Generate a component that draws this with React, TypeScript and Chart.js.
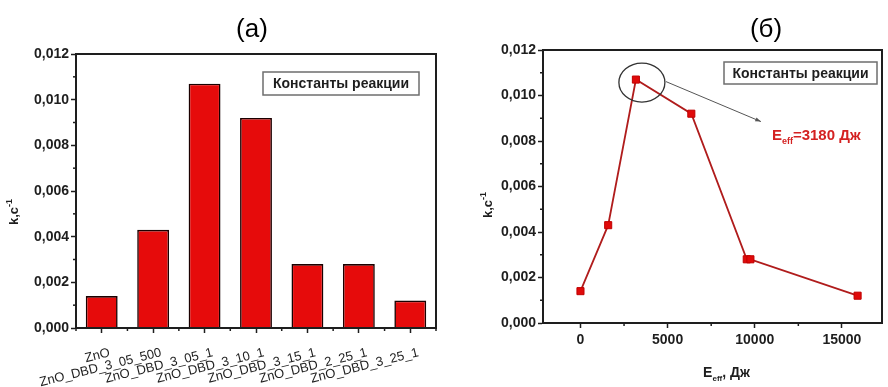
import React, { useEffect, useRef } from "react";
import { Chart, registerables } from "chart.js";

Chart.register(...registerables);

// ---------- data ----------
const samples = [
  "ZnO",
  "ZnO_DBD_3_05_500",
  "ZnO_DBD_3_05_1",
  "ZnO_DBD_3_10_1",
  "ZnO_DBD_3_15_1",
  "ZnO_DBD_2_25_1",
  "ZnO_DBD_3_25_1",
];
const rateConstants = [0.0014, 0.0043, 0.0107, 0.0092, 0.0028, 0.0028, 0.0012];
const energies = [0, 1590, 3180, 6360, 9540, 9750, 15900];
const energyTicks = [0, 5000, 10000, 15000];
const energyMinorTicks = [2500, 7500, 12500];
const kMinorTicks = [0.001, 0.003, 0.005, 0.007, 0.009, 0.011];
const peakIndex = 2;

const FONT = '"Liberation Sans", Arial, Helvetica, sans-serif';
const INK = "#1e1e1e";

type Part = { t: string; size: number; dy: number; bold?: boolean };

function partsWidth(ctx: CanvasRenderingContext2D, parts: Part[]) {
  let w = 0;
  for (const p of parts) {
    ctx.font = `${p.bold ? "bold " : ""}${p.size}px ${FONT}`;
    w += ctx.measureText(p.t).width;
  }
  return w;
}

function drawParts(
  ctx: CanvasRenderingContext2D,
  parts: Part[],
  x: number,
  y: number,
  color: string,
  align: "left" | "center"
) {
  const total = partsWidth(ctx, parts);
  let cx = align === "center" ? x - total / 2 : x;
  ctx.fillStyle = color;
  ctx.textAlign = "left";
  ctx.textBaseline = "alphabetic";
  for (const p of parts) {
    ctx.font = `${p.bold ? "bold " : ""}${p.size}px ${FONT}`;
    ctx.fillText(p.t, cx, y + p.dy);
    cx += ctx.measureText(p.t).width;
  }
}

const kTitle: Part[] = [
  { t: "k,c", size: 13, dy: 0, bold: true },
  { t: "-1", size: 9, dy: -6, bold: true },
];

function drawFrame(chart: any, o: any) {
  const ctx: CanvasRenderingContext2D = chart.ctx;
  const a = chart.chartArea;
  ctx.save();
  // box
  ctx.strokeStyle = INK;
  ctx.lineWidth = 2;
  ctx.strokeRect(a.left, a.top, a.right - a.left, a.bottom - a.top);
  // minor y ticks
  ctx.lineWidth = 1.5;
  const ys = chart.scales.y;
  for (const v of kMinorTicks) {
    const py = ys.getPixelForValue(v);
    ctx.beginPath();
    ctx.moveTo(a.left - 3, py);
    ctx.lineTo(a.left, py);
    ctx.stroke();
  }
  // minor x ticks
  const xs = chart.scales.x;
  const minorX: number[] = [];
  if (o.categoryMinor) {
    const n = samples.length;
    for (let i = 0; i <= n; i++) {
      minorX.push((xs.getPixelForValue(i - 1) + xs.getPixelForValue(i)) / 2);
    }
  } else {
    for (const v of energyMinorTicks) minorX.push(xs.getPixelForValue(v));
  }
  for (const px of minorX) {
    ctx.beginPath();
    ctx.moveTo(px, a.bottom);
    ctx.lineTo(px, a.bottom + 3);
    ctx.stroke();
  }
  // panel title
  ctx.fillStyle = "#000";
  ctx.font = `26px ${FONT}`;
  ctx.textAlign = "center";
  ctx.textBaseline = "alphabetic";
  ctx.fillText(o.title, o.titleX, o.titleY);
  // y axis title (rotated)
  ctx.save();
  ctx.translate(o.yTitleX, o.yTitleY);
  ctx.rotate(-Math.PI / 2);
  drawParts(ctx, kTitle, 0, 0, INK, "center");
  ctx.restore();
  // legend box
  const bx = a.right - o.boxRight - o.boxW;
  const by = a.top + o.boxTop;
  ctx.fillStyle = "#fff";
  ctx.fillRect(bx, by, o.boxW, o.boxH);
  ctx.strokeStyle = "#6e6e6e";
  ctx.lineWidth = 1.5;
  ctx.strokeRect(bx, by, o.boxW, o.boxH);
  ctx.fillStyle = INK;
  ctx.font = `bold 14px ${FONT}`;
  ctx.textAlign = "center";
  ctx.textBaseline = "middle";
  ctx.fillText("Константы реакции", bx + o.boxW / 2, by + o.boxH / 2 + 1);

  if (o.annotate) {
    const meta = chart.getDatasetMeta(0);
    const pk = meta.data[peakIndex];
    // ellipse around the peak
    ctx.strokeStyle = "#333";
    ctx.lineWidth = 1.3;
    ctx.beginPath();
    ctx.ellipse(pk.x + 6, pk.y + 3, 23, 19.5, 0, 0, Math.PI * 2);
    ctx.stroke();
    // arrow
    const x0 = pk.x + 30, y0 = pk.y + 2, x1 = pk.x + 125, y1 = pk.y + 42;
    ctx.strokeStyle = "#555";
    ctx.lineWidth = 1;
    ctx.beginPath();
    ctx.moveTo(x0, y0);
    ctx.lineTo(x1, y1);
    ctx.stroke();
    const ang = Math.atan2(y1 - y0, x1 - x0);
    ctx.fillStyle = "#555";
    ctx.beginPath();
    ctx.moveTo(x1, y1);
    ctx.lineTo(x1 - 6 * Math.cos(ang - 0.35), y1 - 6 * Math.sin(ang - 0.35));
    ctx.lineTo(x1 - 6 * Math.cos(ang + 0.35), y1 - 6 * Math.sin(ang + 0.35));
    ctx.closePath();
    ctx.fill();
    // label
    drawParts(
      ctx,
      [
        { t: "E", size: 15, dy: 0, bold: true },
        { t: "eff", size: 9, dy: 4, bold: true },
        { t: "=3180 Дж", size: 15, dy: 0, bold: true },
      ],
      pk.x + 136,
      pk.y + 60,
      "#d42222",
      "left"
    );
    // x axis title
    drawParts(
      ctx,
      [
        { t: "E", size: 14, dy: 0, bold: true },
        { t: "eff", size: 8, dy: 4, bold: true },
        { t: ", Дж", size: 14, dy: 0, bold: true },
      ],
      (a.left + a.right) / 2 + 14,
      377,
      INK,
      "center"
    );
  }
  ctx.restore();
}

const framePlugin = {
  id: "frame",
  afterDraw(chart: any, _args: any, o: any) {
    drawFrame(chart, o);
  },
};

const tickFont = { family: FONT, size: 14, weight: "bold" as const };

function yAxis(width: number) {
  return {
    min: 0,
    max: 0.012,
    ticks: {
      stepSize: 0.002,
      color: INK,
      font: tickFont,
      padding: 2,
      callback: (v: any) => Number(v).toFixed(3).replace(".", ","),
    },
    grid: {
      display: true,
      drawOnChartArea: false,
      drawTicks: true,
      tickLength: 5,
      tickWidth: 1.5,
      tickColor: INK,
    },
    border: { display: true, color: INK, width: 2 },
    afterFit: (s: any) => {
      s.width = width;
    },
  };
}

export default function App() {
  const leftRef = useRef<HTMLCanvasElement>(null);
  const rightRef = useRef<HTMLCanvasElement>(null);

  useEffect(() => {
    const left = new Chart(leftRef.current!, {
      type: "bar",
      data: {
        labels: samples,
        datasets: [
          {
            data: rateConstants,
            backgroundColor: "#e60b0b",
            borderColor: "#1a0000",
            borderWidth: 1.6,
            barPercentage: 0.62,
            categoryPercentage: 1,
          },
        ],
      },
      options: {
        responsive: false,
        animation: false,
        layout: { padding: { top: 54, right: 8, left: 0, bottom: 0 } },
        plugins: {
          legend: { display: false },
          tooltip: { enabled: false },
          frame: {
            categoryMinor: true,
            title: "(a)",
            titleX: 252,
            titleY: 37,
            yTitleX: 18,
            yTitleY: 212,
            boxRight: 17,
            boxTop: 18,
            boxW: 156,
            boxH: 23,
            annotate: false,
          },
        } as any,
        scales: {
          x: {
            ticks: {
              color: INK,
              font: { family: FONT, size: 13 },
              minRotation: 14,
              maxRotation: 14,
              autoSkip: false,
              padding: 12,
              labelOffset: 8,
            },
            grid: {
              display: true,
              offset: false,
              drawOnChartArea: false,
              drawTicks: true,
              tickLength: 5,
              tickWidth: 1.5,
              tickColor: INK,
            },
            border: { display: true, color: INK, width: 2 },
            afterFit: (s: any) => {
              s.height = 59;
            },
          },
          y: yAxis(76),
        } as any,
      },
      plugins: [framePlugin],
    });

    const right = new Chart(rightRef.current!, {
      type: "line",
      data: {
        datasets: [
          {
            data: energies.map((e, i) => ({ x: e, y: rateConstants[i] })),
            borderColor: "#b01c1c",
            borderWidth: 1.8,
            backgroundColor: "#e00a0a",
            pointBackgroundColor: "#e00a0a",
            pointBorderColor: "#c00000",
            pointBorderWidth: 1,
            pointStyle: "rect",
            pointRadius: 5,
            tension: 0,
            fill: false,
          },
        ],
      },
      options: {
        responsive: false,
        animation: false,
        layout: { padding: { top: 50, right: 3, left: 0, bottom: 0 } },
        plugins: {
          legend: { display: false },
          tooltip: { enabled: false },
          frame: {
            categoryMinor: false,
            title: "(б)",
            titleX: 322,
            titleY: 37,
            yTitleX: 48,
            yTitleY: 205,
            boxRight: 5,
            boxTop: 12,
            boxW: 153,
            boxH: 22,
            annotate: true,
          },
        } as any,
        scales: {
          x: {
            type: "linear",
            min: -2150,
            max: 17300,
            afterBuildTicks: (s: any) => {
              s.ticks = energyTicks.map((v) => ({ value: v }));
            },
            ticks: {
              color: INK,
              font: tickFont,
              padding: 4,
              callback: (v: any) => String(v),
            },
            grid: {
              display: true,
              drawOnChartArea: false,
              drawTicks: true,
              tickLength: 5,
              tickWidth: 1.5,
              tickColor: INK,
            },
            border: { display: true, color: INK, width: 2 },
            afterFit: (s: any) => {
              s.height = 64;
            },
          },
          y: yAxis(99),
        } as any,
      },
      plugins: [framePlugin],
    });

    return () => {
      left.destroy();
      right.destroy();
    };
  }, []);

  return (
    <div
      style={{
        position: "fixed",
        left: 0,
        top: 0,
        width: 888,
        height: 387,
        background: "#fff",
        overflow: "hidden",
      }}
    >
      <canvas
        ref={leftRef}
        width={444}
        height={387}
        style={{ position: "absolute", left: 0, top: 0 }}
      />
      <canvas
        ref={rightRef}
        width={444}
        height={387}
        style={{ position: "absolute", left: 444, top: 0 }}
      />
    </div>
  );
}
